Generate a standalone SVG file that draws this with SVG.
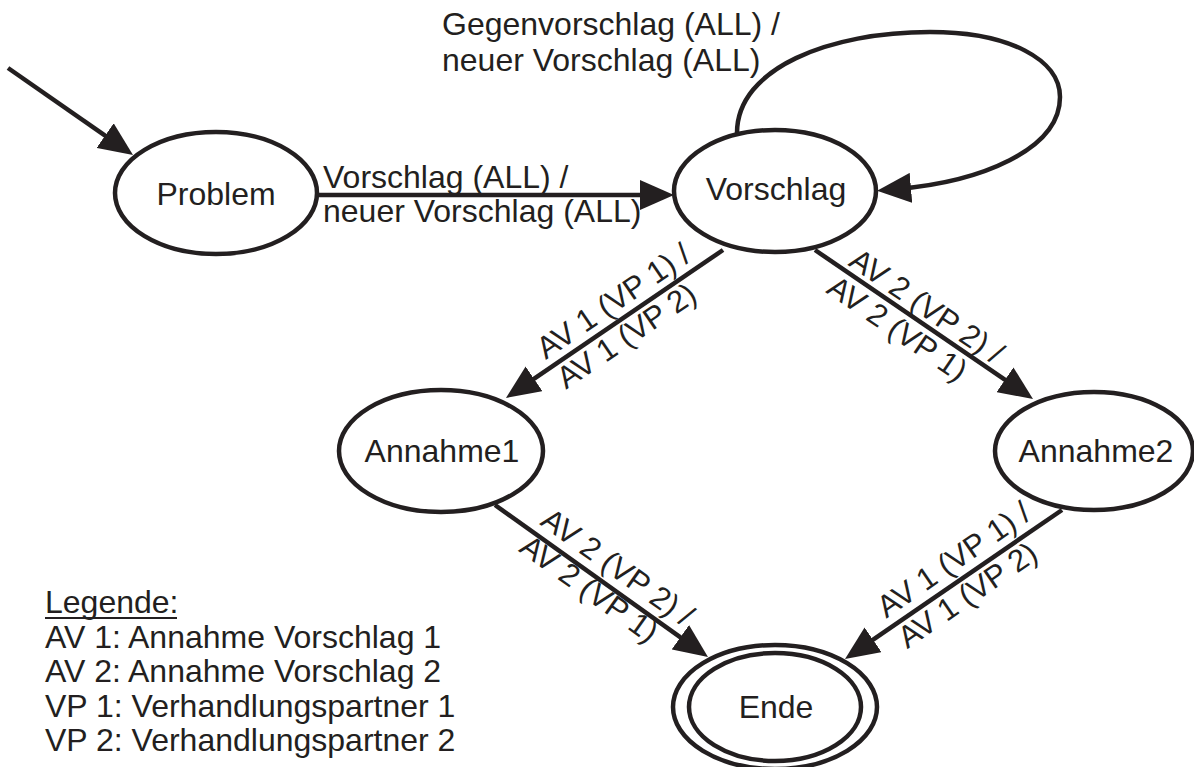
<svg xmlns="http://www.w3.org/2000/svg" width="1194" height="767" viewBox="0 0 1194 767">
<defs>
<style>
text{font-family:"Liberation Sans",Arial,sans-serif;font-size:32px;fill:#231f20}
.lbl{font-size:31px}
.node{fill:#fff;stroke:#231f20;stroke-width:4.5}
.edge{fill:none;stroke:#231f20;stroke-width:4.5;marker-end:url(#ah)}
</style>
<marker id="ah" markerUnits="userSpaceOnUse" markerWidth="34" markerHeight="30" refX="14" refY="15" orient="auto">
<path d="M0,0 L34,15 L0,30 z" fill="#231f20"/>
</marker>
</defs>
<rect width="1194" height="767" fill="#fff"/>
<g id="connectors">
<path class="edge" d="M8,68 L116.6,143.6"/>
<path class="edge" d="M316,195 L654,195"/>
<path class="edge" d="M737,133 C737,68 830,32 930,32 C1010,32 1060,60 1060,97 C1060,150 980,182 897,189"/>
<path class="edge" d="M723,250 L522.5,386.7"/>
<path class="edge" d="M815,250 L1016.5,387.7"/>
<path class="edge" d="M495,505 L691.7,645.4"/>
<path class="edge" d="M1062,510 L861.5,647.7"/>
</g>
<g id="edge-labels">
<text x="442" y="35">Gegenvorschlag (ALL) /</text>
<text x="442" y="71">neuer Vorschlag (ALL)</text>
<text x="323" y="188">Vorschlag (ALL) /</text>
<text x="323" y="222">neuer Vorschlag (ALL)</text>
<g transform="translate(550.8,367.5) rotate(-34.3)">
<text class="lbl" x="0" y="-9">AV 1 (VP 1) /</text>
<text class="lbl" x="0" y="27">AV 1 (VP 2)</text>
</g>
<g transform="translate(843.9,269.7) rotate(34.3)">
<text class="lbl" x="0" y="-6">AV 2 (VP 2) /</text>
<text class="lbl" x="-3" y="29">AV 2 (VP 1)</text>
</g>
<g transform="translate(531.6,531.1) rotate(35.5)">
<text class="lbl" x="2" y="-10">AV 2 (VP 2) /</text>
<text class="lbl" x="0" y="24">AV 2 (VP 1)</text>
</g>
<g transform="translate(891.9,627) rotate(-34.5)">
<text class="lbl" x="0" y="-10">AV 1 (VP 1) /</text>
<text class="lbl" x="0" y="27">AV 1 (VP 2)</text>
</g>
</g>
<g id="node-problem">
<ellipse class="node" cx="216" cy="193" rx="101" ry="61"/>
<text x="216" y="205" text-anchor="middle">Problem</text>
</g>
<g id="node-vorschlag">
<ellipse class="node" cx="775" cy="191" rx="101" ry="61"/>
<text x="776" y="200" text-anchor="middle">Vorschlag</text>
</g>
<g id="node-annahme1">
<ellipse class="node" cx="441" cy="451" rx="102" ry="61"/>
<text x="442" y="462" text-anchor="middle">Annahme1</text>
</g>
<g id="node-annahme2">
<ellipse class="node" cx="1094" cy="451" rx="99" ry="59"/>
<text x="1096" y="462" text-anchor="middle">Annahme2</text>
</g>
<g id="node-ende">
<ellipse class="node" cx="775" cy="707" rx="102" ry="62"/>
<ellipse class="node" cx="775" cy="707" rx="86" ry="54"/>
<text x="776" y="718" text-anchor="middle">Ende</text>
</g>
<g id="legend">
<text x="45" y="613">Legende:</text>
<line x1="45" y1="618" x2="177" y2="618" stroke="#231f20" stroke-width="2"/>
<text x="45" y="648">AV 1: Annahme Vorschlag 1</text>
<text x="45" y="682">AV 2: Annahme Vorschlag 2</text>
<text x="45" y="717">VP 1: Verhandlungspartner 1</text>
<text x="45" y="751">VP 2: Verhandlungspartner 2</text>
</g>
</svg>
